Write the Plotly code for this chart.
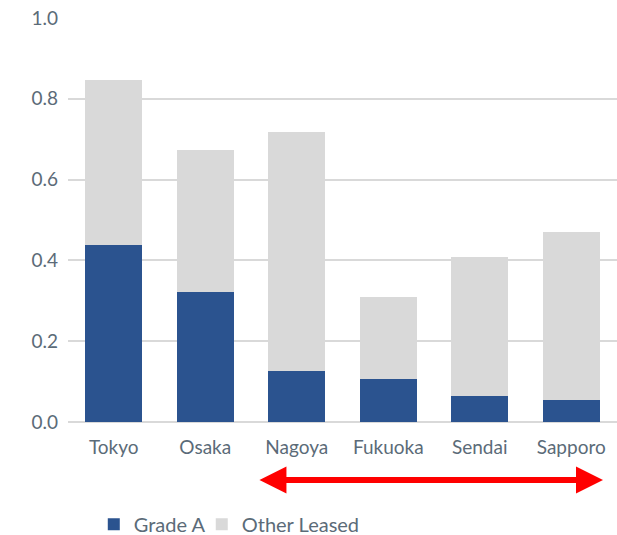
import plotly.graph_objects as go

cities = ["Tokyo", "Osaka", "Nagoya", "Fukuoka", "Sendai", "Sapporo"]
grade_a = [0.438, 0.322, 0.126, 0.106, 0.064, 0.054]
total = [0.847, 0.673, 0.718, 0.309, 0.408, 0.470]
other_leased = [round(t - a, 3) for t, a in zip(total, grade_a)]
y_ticks = [0.0, 0.2, 0.4, 0.6, 0.8, 1.0]

font_color = "#5b6b78"

fig = go.Figure()
fig.add_trace(go.Bar(x=cities, y=grade_a, name="Grade A", marker_color="#2b538f",
                     marker_line_width=0, legend="legend"))
fig.add_trace(go.Bar(x=cities, y=other_leased, name="Other Leased", marker_color="#d9d9d9",
                     marker_line_width=0, legend="legend2"))

leg_common = dict(orientation="h", xref="container", yref="container",
                  xanchor="left", y=0.02, yanchor="middle",
                  font=dict(size=20, color=font_color), itemwidth=30,
                  bgcolor="rgba(0,0,0,0)")

fig.update_layout(
    barmode="stack",
    bargap=0.38,
    width=617, height=535,
    margin=dict(l=68, r=0, t=18, b=113, autoexpand=False),
    paper_bgcolor="white", plot_bgcolor="white",
    font=dict(family="Lato, Open Sans, sans-serif", color=font_color),
    showlegend=True,
    legend=dict(x=0.152, **leg_common),
    legend2=dict(x=0.327, **leg_common),
    xaxis=dict(showgrid=False, showline=False, tickfont=dict(size=19, color=font_color),
               ticks="", ticklabelstandoff=12),
    yaxis=dict(range=[0, 1.0], tickvals=y_ticks, tickformat=".1f",
               showgrid=True, gridcolor="#d9d9d9", gridwidth=1.5,
               zeroline=True, zerolinecolor="#d9d9d9", zerolinewidth=1.5,
               tickfont=dict(size=19, color=font_color), ticklabelstandoff=9,
               showline=False),
)

fig.add_annotation(
    xref="x domain", yref="y domain", axref="x domain", ayref="y domain",
    x=0.9745, y=-0.1436, ax=0.346, ay=-0.1436,
    showarrow=True, arrowhead=2, arrowside="end+start", arrowsize=0.9,
    arrowwidth=6, arrowcolor="#ff0000", text="",
)

fig.write_html("out.html")
